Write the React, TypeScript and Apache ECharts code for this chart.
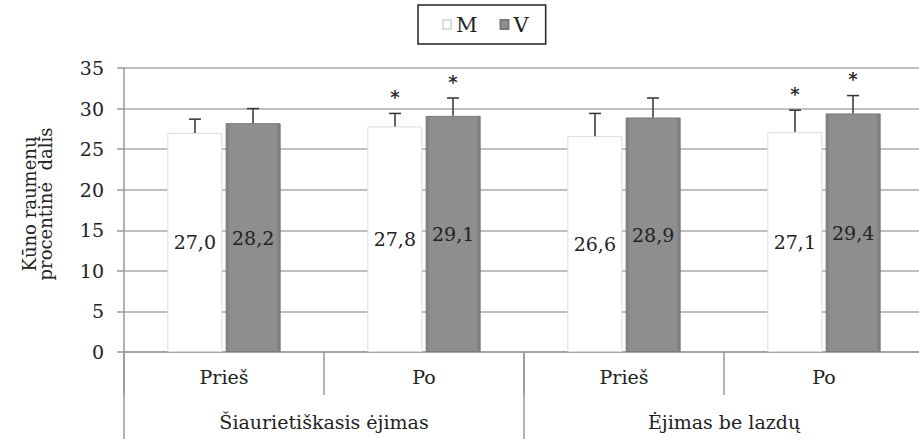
import React, { useEffect, useRef } from "react";
import * as echarts from "echarts";

const subCategories = ["Prieš", "Po", "Prieš", "Po"];
const groupCategories = ["Šiaurietiškasis ėjimas", "Ėjimas be lazdų"];
const seriesNames = ["M", "V"];
const valuesM = [27.0, 27.8, 26.6, 27.1];
const valuesV = [28.2, 29.1, 28.9, 29.4];
const errTopM = [28.7, 29.4, 29.4, 29.8];
const errTopV = [30.0, 31.3, 31.3, 31.6];
const sigM = [0, 1, 0, 1];
const sigV = [0, 1, 0, 1];
const yTicks = { min: 0, max: 35, interval: 5 };
const yTitleLines = ["Kūno raumenų", "procentinė  dalis"];

const FONT = "DejaVu Serif";
const BAR_W = 55;

function errRender(offset: number) {
  return (params: any, api: any) => {
    const i = api.value(0);
    const val = api.value(1);
    const top = api.value(2);
    const sig = api.value(3);
    const b = api.coord([i, val]);
    const t = api.coord([i, top]);
    const x = b[0] + offset;
    const children: any[] = [
      { type: "line", shape: { x1: x, y1: b[1], x2: x, y2: t[1] }, style: { stroke: "#333", lineWidth: 1.5 } },
      { type: "line", shape: { x1: x - 6, y1: t[1], x2: x + 6, y2: t[1] }, style: { stroke: "#333", lineWidth: 1.5 } },
    ];
    if (sig) {
      children.push({
        type: "text",
        style: { text: "*", x, y: t[1] - 7, align: "center", verticalAlign: "bottom", fontSize: 18, fontWeight: "bold", fontFamily: FONT, fill: "#222" },
      });
    }
    return { type: "group", children };
  };
}

export default function App() {
  const ref = useRef<HTMLDivElement>(null);
  useEffect(() => {
    const chart = echarts.init(ref.current!, undefined, { renderer: "svg" });
    const labelFmt = (p: any) => p.value.toFixed(1).replace(".", ",");
    chart.setOption({
      animation: false,
      backgroundColor: "#fff",
      textStyle: { fontFamily: FONT },
      graphic: yTitleLines.map((line, k) => ({
        type: "text",
        x: 29 + k * 16,
        y: 204,
        rotation: Math.PI / 2,
        style: { text: line, fontFamily: FONT, fontSize: 18, fill: "#222", align: "center", verticalAlign: "middle" },
      })),
      legend: {
        data: seriesNames,
        left: 418,
        top: 5,
        itemWidth: 8,
        itemHeight: 9,
        itemGap: 22,
        padding: [9, 17, 9, 24],
        borderColor: "#222",
        borderWidth: 1.5,
        icon: "rect",
        textStyle: { fontFamily: FONT, fontSize: 21, color: "#222" },
      },
      grid: { left: 124, right: 1, top: 68, bottom: 87 },
      xAxis: [
        {
          type: "category",
          data: subCategories,
          position: "bottom",
          axisLine: { show: true, lineStyle: { color: "#999", width: 1.5 } },
          axisTick: { show: true, interval: 0, length: 43, lineStyle: { color: "#999", width: 1.5 } },
          axisLabel: { fontFamily: FONT, fontSize: 19, color: "#222", margin: 15, interval: 0 },
        },
        {
          type: "category",
          data: groupCategories,
          position: "bottom",
          axisLine: { show: false },
          axisTick: { show: true, interval: 0, length: 90, lineStyle: { color: "#999", width: 1.5 } },
          axisLabel: { fontFamily: FONT, fontSize: 19, color: "#222", margin: 60, interval: 0 },
        },
      ],
      yAxis: {
        type: "value",
        min: yTicks.min,
        max: yTicks.max,
        interval: yTicks.interval,
        axisLine: { show: true, lineStyle: { color: "#999", width: 1.5 } },
        axisTick: { show: true, length: 7, lineStyle: { color: "#999", width: 1.5 } },
        axisLabel: { fontFamily: FONT, fontSize: 19, color: "#222", margin: 20 },
        splitLine: { lineStyle: { color: "#aaa", width: 1.5 } },
      },
      series: [
        {
          name: "M",
          type: "bar",
          data: valuesM,
          barWidth: BAR_W,
          barGap: "6%",
          itemStyle: { color: "#ffffff", borderColor: "#dcdcdc", borderWidth: 1 },
          label: { show: true, position: "inside", formatter: labelFmt, fontFamily: FONT, fontSize: 19, color: "#222" },
        },
        {
          name: "V",
          type: "bar",
          data: valuesV,
          barWidth: BAR_W,
          itemStyle: {
            color: new echarts.graphic.LinearGradient(0, 0, 1, 0, [
              { offset: 0, color: "#7d7d7d" },
              { offset: 0.08, color: "#8e8e8e" },
              { offset: 0.92, color: "#8e8e8e" },
              { offset: 1, color: "#7a7a7a" },
            ]),
            borderColor: "#7a7a7a",
            borderWidth: 1,
          },
          label: { show: true, position: "inside", formatter: labelFmt, fontFamily: FONT, fontSize: 19, color: "#222" },
        },
        {
          type: "custom",
          z: 5,
          silent: true,
          renderItem: errRender(-(BAR_W / 2 + 1.5)),
          data: valuesM.map((v, i) => [i, v, errTopM[i], sigM[i]]),
        },
        {
          type: "custom",
          z: 5,
          silent: true,
          renderItem: errRender(BAR_W / 2 + 1.5),
          data: valuesV.map((v, i) => [i, v, errTopV[i], sigV[i]]),
        },
      ],
    });
    return () => chart.dispose();
  }, []);
  return <div ref={ref} style={{ position: "fixed", left: 0, top: 0, width: 925, height: 439 }} />;
}
